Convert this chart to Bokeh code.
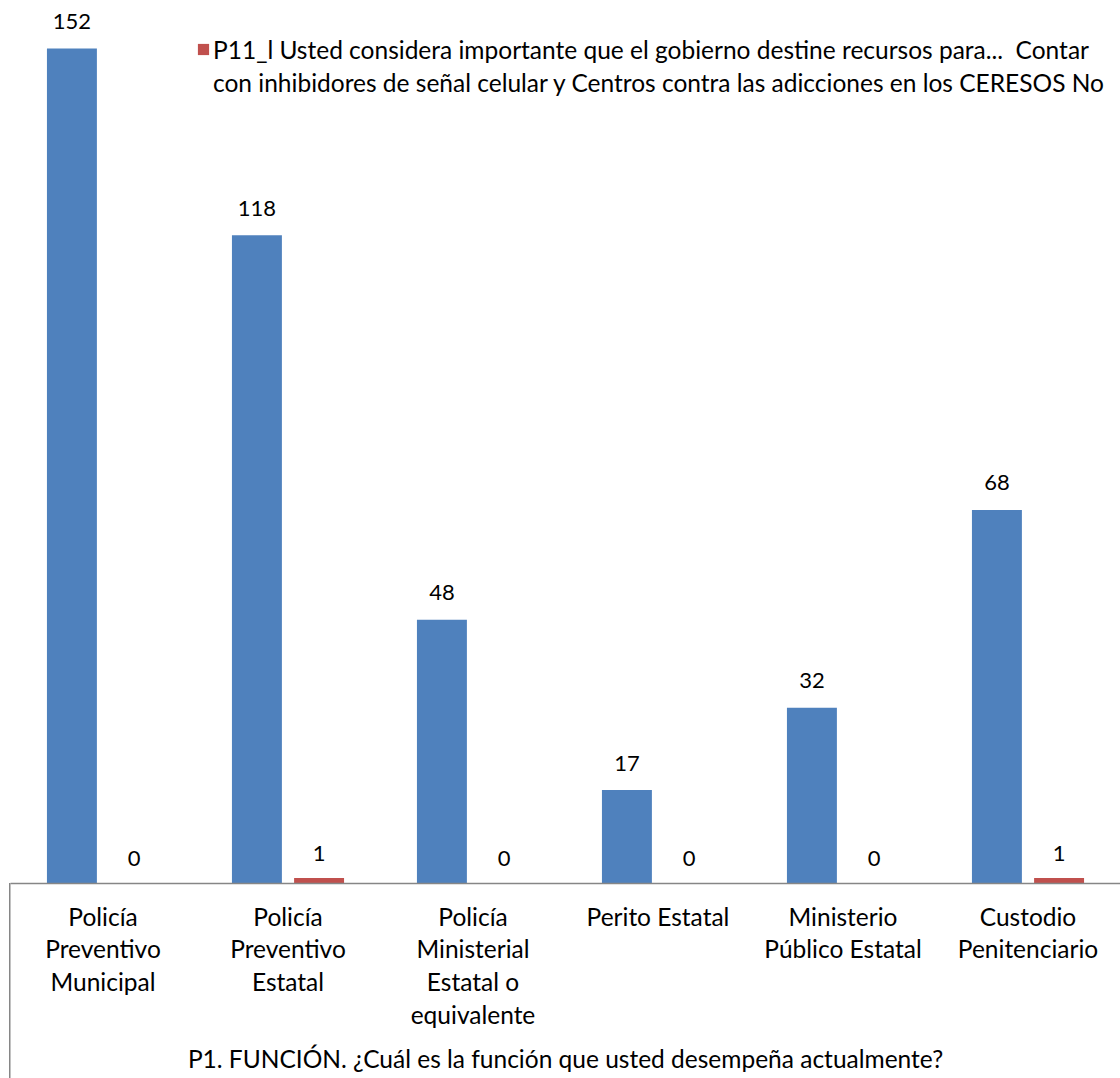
from bokeh.plotting import figure
from bokeh.models import FactorRange, Range1d, ColumnDataSource, Legend, LegendItem
from bokeh.transform import dodge
from bokeh.core.properties import value
from bokeh.embed import file_html
from bokeh.resources import INLINE

categories = [
    "Policía\nPreventivo\nMunicipal",
    "Policía\nPreventivo\nEstatal",
    "Policía\nMinisterial\nEstatal o\nequivalente",
    "Perito Estatal",
    "Ministerio\nPúblico Estatal",
    "Custodio\nPenitenciario",
]
si_values = [152, 118, 48, 17, 32, 68]
no_values = [0, 1, 0, 0, 0, 1]
legend_line1 = "P11_l Usted considera importante que el gobierno destine recursos para...  Contar"
legend_line2 = "con inhibidores de señal celular y Centros contra las adicciones en los CERESOS No"
x_title = "P1. FUNCIÓN. ¿Cuál es la función que usted desempeña actualmente?"

FONT = "Lato"
FS = "24.5px"
FS_NUM = "22px"

src = ColumnDataSource(dict(
    cat=categories, si=si_values, no=no_values,
    si_t=[str(v) for v in si_values], no_t=[str(v) for v in no_values],
))

p = figure(x_range=FactorRange(*categories, range_padding=0), y_range=Range1d(0, 160.75),
           width=1120, height=1078, output_backend="svg", toolbar_location=None,
           min_border_left=10, min_border_right=0, min_border_top=0, min_border_bottom=195,
           border_fill_color=None, background_fill_color=None)
p.styles = {"background": "linear-gradient(#868686, #868686) 9px 883px / 1.5px 200px no-repeat, #ffffff"}

blue = "#4F81BD"
red = "#C0504D"
off = 0.168
bw = 0.27
p.vbar(x=dodge("cat", -off, range=p.x_range), top="si", width=bw, source=src,
       fill_color=blue, line_color=None)
rno = p.vbar(x=dodge("cat", off, range=p.x_range), top="no", width=bw, source=src,
             fill_color=red, line_color=None)
rdummy = p.vbar(x=dodge("cat", off, range=p.x_range), top="no", width=bw, source=src,
                fill_alpha=0, line_alpha=0)

p.text(x=dodge("cat", -off, range=p.x_range), y="si", text="si_t", source=src,
       text_align="center", text_baseline="alphabetic", y_offset=-27,
       text_font=value(FONT), text_font_size=FS_NUM, text_color="#000000")
p.text(x=dodge("cat", off, range=p.x_range), y="no", text="no_t", source=src,
       text_align="center", text_baseline="alphabetic", y_offset=-25,
       text_font=value(FONT), text_font_size=FS_NUM, text_color="#000000")

p.xgrid.visible = False
p.ygrid.visible = False
p.yaxis.visible = False
p.outline_line_color = None

ax = p.xaxis[0]
ax.axis_line_color = "#868686"
ax.axis_line_width = 1.5
ax.major_tick_line_color = None
ax.minor_tick_line_color = None
ax.major_label_text_font = FONT
ax.major_label_text_font_size = FS
ax.major_label_text_color = "#000000"
ax.major_label_text_line_height = 1.13
ax.major_label_standoff = 12
ax.major_label_orientation = "horizontal"
ax.axis_label = x_title
ax.axis_label_text_font = FONT
ax.axis_label_text_font_size = FS
ax.axis_label_text_font_style = "normal"
ax.axis_label_text_color = "#000000"
ax.axis_label_standoff = 12

legend = Legend(items=[LegendItem(label=legend_line1, renderers=[rno]),
                       LegendItem(label=legend_line2, renderers=[rdummy])],
                location=(186, 786), border_line_color=None, background_fill_alpha=0,
                label_text_font=FONT, label_text_font_size=FS, label_text_color="#000000",
                glyph_width=14, glyph_height=14, label_standoff=3, margin=0, padding=0,
                label_height=30, spacing=3)
p.add_layout(legend)

open("out.html", "w").write(file_html(p, INLINE))
